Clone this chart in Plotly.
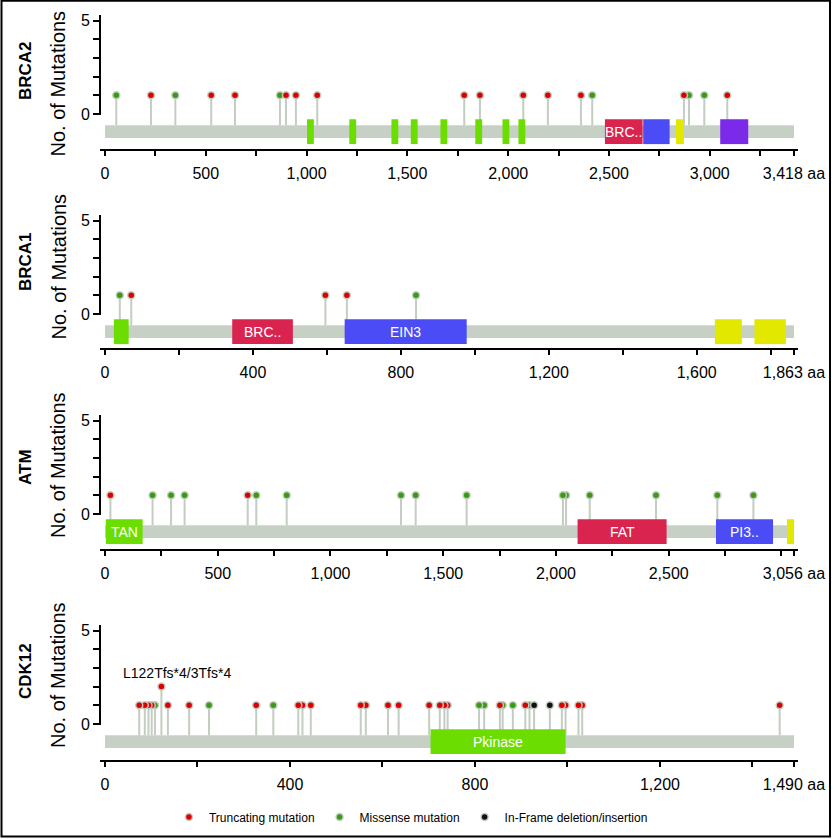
import plotly.graph_objects as go

# ---------------- data ----------------
genes = ["BRCA2", "BRCA1", "ATM", "CDK12"]
protein_length = [3418, 1863, 3056, 1490]
minor_tick_step = [250, 200, 250, 200]
label_tick_step = [500, 400, 500, 400]

# BRCA2 domains
brca2_dom_start = [1002, 1212, 1421, 1517, 1664, 1837, 1972, 2051, 2480, 2670, 2832, 3052]
brca2_dom_end = [1036, 1246, 1455, 1551, 1698, 1871, 2006, 2085, 2667, 2801, 2872, 3191]
brca2_dom_family = ["BRC_repeat"] * 8 + ["BRCA2_helical", "BRCA2_OB1", "Tower", "BRCA2_OB3"]
brca2_dom_label = [""] * 8 + ["BRC..", "", "", ""]

# BRCA1 domains
brca1_dom_start = [24, 344, 648, 1649, 1756]
brca1_dom_end = [64, 508, 978, 1722, 1841]
brca1_dom_family = ["zf-C3HC4", "BRCT_assoc", "EIN3", "BRCT", "BRCT"]
brca1_dom_label = ["", "BRC..", "EIN3", "", ""]

# ATM domains
atm_dom_start = [4, 2096, 2710, 3025]
atm_dom_end = [167, 2491, 2963, 3056]
atm_dom_family = ["TAN", "FAT", "PI3_PI4_kinase", "FATC"]
atm_dom_label = ["TAN", "FAT", "PI3..", ""]

# CDK12 domains
cdk12_dom_start = [704]
cdk12_dom_end = [996]
cdk12_dom_family = ["Pkinase"]
cdk12_dom_label = ["Pkinase"]

# mutations: T = truncating, M = missense, I = in-frame del/ins
brca2_mut_pos = [56, 228, 349, 527, 645, 868, 898, 947, 1053, 1782, 1860, 2075, 2197, 2361, 2417, 2872, 2897, 2973, 3087]
brca2_mut_type = ["M", "T", "M", "T", "T", "M", "T", "T", "T", "T", "T", "T", "T", "T", "M", "T", "M", "M", "T"]
brca2_mut_count = [1] * 19

brca1_mut_pos = [40, 71, 596, 654, 841]
brca1_mut_type = ["M", "T", "T", "T", "M"]
brca1_mut_count = [1] * 5

atm_mut_pos = [24, 211, 293, 353, 633, 671, 806, 1313, 1378, 1604, 2031, 2045, 2150, 2444, 2716, 2876]
atm_mut_type = ["T", "M", "M", "M", "T", "M", "M", "M", "M", "M", "M", "M", "M", "M", "M", "M"]
atm_mut_count = [1] * 16

cdk12_mut_pos = [74, 86, 94, 101, 108, 122, 136, 182, 225, 327, 364, 418, 427, 445, 553, 564, 612, 635,
                 701, 724, 734, 741, 809, 820, 854, 860, 882, 909, 918, 928, 962, 988, 996, 1024, 1032, 1459]
cdk12_mut_type = ["T", "T", "T", "T", "M", "T", "T", "T", "M", "T", "M", "T", "T", "T", "T", "T", "T", "T",
                  "T", "T", "T", "T", "M", "M", "T", "M", "M", "T", "M", "I", "I", "T", "T", "T", "T", "T"]
cdk12_mut_count = [1, 1, 1, 1, 1, 2, 1, 1, 1, 1, 1, 1, 1, 1, 1, 1, 1, 1,
                   1, 1, 1, 1, 1, 1, 1, 1, 1, 1, 1, 1, 1, 1, 1, 1, 1, 1]

cdk12_hotspot_label = "L122Tfs*4/3Tfs*4"
cdk12_hotspot_pos = 122

mutation_types = ["T", "M", "I"]
mutation_names = ["Truncating mutation", "Missense mutation", "In-Frame deletion/insertion"]

domains = [
    (brca2_dom_start, brca2_dom_end, brca2_dom_family, brca2_dom_label),
    (brca1_dom_start, brca1_dom_end, brca1_dom_family, brca1_dom_label),
    (atm_dom_start, atm_dom_end, atm_dom_family, atm_dom_label),
    (cdk12_dom_start, cdk12_dom_end, cdk12_dom_family, cdk12_dom_label),
]
mutations = [
    (brca2_mut_pos, brca2_mut_type, brca2_mut_count),
    (brca1_mut_pos, brca1_mut_type, brca1_mut_count),
    (atm_mut_pos, atm_mut_type, atm_mut_count),
    (cdk12_mut_pos, cdk12_mut_type, cdk12_mut_count),
]

# ---------------- styles ----------------
W, H = 837, 839
FONT = "Liberation Sans, Arial, Helvetica, sans-serif"
GREEN_D, RED_D, BLUE_D, YEL_D, PUR_D = "#6bdd00", "#da2450", "#4b4cf6", "#e3e800", "#7b2aea"
family_color = {
    "BRC_repeat": GREEN_D, "BRCA2_helical": RED_D, "BRCA2_OB1": BLUE_D, "Tower": YEL_D, "BRCA2_OB3": PUR_D,
    "zf-C3HC4": GREEN_D, "BRCT_assoc": RED_D, "EIN3": BLUE_D, "BRCT": YEL_D,
    "TAN": GREEN_D, "FAT": RED_D, "PI3_PI4_kinase": BLUE_D, "FATC": YEL_D,
    "Pkinase": GREEN_D,
}
type_color = {"T": "#dd0000", "M": "#3a9a10", "I": "#111111"}
BAR_COLOR = "#c6d0c4"
STEM_COLOR = "#c3cdc1"

# pixel layout
x_left_px, x_right_px = 100, 798
zero_px = [114, 314, 514, 724]
bottom_px = [149, 348, 549, 759.5]
unit_px = 18.7
y_top_val = 5.4
gene_label_y = [71, 262, 467, 671]
ytitle_y = [83.5, 266.5, 465, 675]

BAR_Y = (-1.29, -0.60)
DOM_Y = (-1.61, -0.28)

fig = go.Figure()
layout = dict(
    width=W, height=H, margin=dict(l=0, r=0, t=0, b=0, pad=0, autoexpand=False), autosize=False,
    paper_bgcolor="white", plot_bgcolor="white",
    font=dict(family=FONT, color="black"),
    showlegend=True,
)
shapes = []
annotations = []
legend_shown = set()

for i, gene in enumerate(genes):
    n = "" if i == 0 else str(i + 1)
    xa, ya = "x" + n, "y" + n
    L = protein_length[i]
    s = 689.0 / L
    xr = [-5.0 / s, L + 4.0 / s]
    ymin = -(bottom_px[i] - zero_px[i]) / unit_px
    top_px = zero_px[i] - y_top_val * unit_px
    dom_y = [1 - bottom_px[i] / H, 1 - top_px / H]

    tv, tt = [], []
    v = 0
    while v < L:
        tv.append(v)
        if v % label_tick_step[i] == 0 and (L - v) > 0.05 * L:
            tt.append(f"{v:,}")
        else:
            tt.append("")
        v += minor_tick_step[i]
    tv.append(L)
    tt.append(f"{L:,} aa")

    layout["xaxis" + n] = dict(
        domain=[x_left_px / W, x_right_px / W], range=xr, anchor=ya, automargin=False,
        showgrid=False, zeroline=False, showline=True, linecolor="black", linewidth=2,
        ticks="outside", ticklen=5, tickwidth=1.5, tickcolor="black", ticklabelstandoff=4,
        tickmode="array", tickvals=tv, ticktext=tt,
        tickfont=dict(size=16, family=FONT, color="black"), fixedrange=True,
    )
    layout["yaxis" + n] = dict(
        domain=dom_y, range=[ymin, y_top_val], anchor=xa, automargin=False,
        showgrid=False, zeroline=False, showline=False,
        ticks="outside", ticklen=6, tickwidth=1.5, tickcolor="black",
        tickmode="array", tickvals=[0, 1, 2, 3, 4, 5], ticktext=["0", "", "", "", "", "5"],
        tickfont=dict(size=16, family=FONT, color="black"), fixedrange=True,
    )

    # y axis line (0..5 only)
    shapes.append(dict(type="line", xref=xa + " domain", yref=ya, x0=0, x1=0, y0=-0.06, y1=5.3,
                       line=dict(color="black", width=2), layer="above"))
    # protein backbone
    shapes.append(dict(type="rect", xref=xa, yref=ya, x0=0, x1=L, y0=BAR_Y[0], y1=BAR_Y[1],
                       fillcolor=BAR_COLOR, line=dict(width=0), layer="below"))
    # domains
    ds, de, df, dl = domains[i]
    for a, b, fam, lab in zip(ds, de, df, dl):
        shapes.append(dict(type="rect", xref=xa, yref=ya, x0=a, x1=b, y0=DOM_Y[0], y1=DOM_Y[1],
                           fillcolor=family_color[fam], line=dict(width=0), layer="above"))
        if lab:
            annotations.append(dict(x=(a + b) / 2, y=(DOM_Y[0] + DOM_Y[1]) / 2, xref=xa, yref=ya,
                                    text=lab, showarrow=False, xanchor="center", yanchor="middle",
                                    font=dict(size=14, color="white", family=FONT)))

    # stems
    mp, mt, mc = mutations[i]
    sx, sy = [], []
    for p, c in zip(mp, mc):
        sx += [p, p, None]
        sy += [BAR_Y[1], c, None]
    fig.add_trace(go.Scatter(x=sx, y=sy, xaxis=xa, yaxis=ya, mode="lines",
                             line=dict(color=STEM_COLOR, width=2), hoverinfo="skip", showlegend=False))
    # lollipop heads, one trace per mutation type (green below red/black)
    for t in ["M", "I", "T"]:
        pts = sorted([(p, c) for p, tt_, c in zip(mp, mt, mc) if tt_ == t], reverse=True)
        if not pts:
            continue
        name = mutation_names[mutation_types.index(t)]
        show = t not in legend_shown
        legend_shown.add(t)
        fig.add_trace(go.Scatter(
            x=[p for p, _ in pts], y=[c for _, c in pts], xaxis=xa, yaxis=ya, mode="markers",
            marker=dict(color=type_color[t], size=7, line=dict(color="rgba(195,205,195,0.95)", width=1.5)),
            name=name, legendgroup=t, showlegend=show,
            legendrank=mutation_types.index(t) + 1,
        ))

    # titles
    annotations.append(dict(x=25 / W, y=1 - gene_label_y[i] / H, xref="paper", yref="paper",
                            text="<b>" + gene + "</b>", textangle=-90, showarrow=False,
                            xanchor="center", yanchor="middle",
                            font=dict(size=17, family=FONT, color="black")))
    annotations.append(dict(x=58 / W, y=1 - ytitle_y[i] / H, xref="paper", yref="paper",
                            text="No. of Mutations", textangle=-90, showarrow=False,
                            xanchor="center", yanchor="middle",
                            font=dict(size=20, family=FONT, color="black")))

# hotspot label on CDK12
annotations.append(dict(x=cdk12_hotspot_pos, y=2, xref="x4", yref="y4", text=cdk12_hotspot_label,
                        showarrow=False, xanchor="center", yanchor="bottom", xshift=16, yshift=4,
                        font=dict(size=14, family=FONT, color="black")))

# outer frame
shapes.append(dict(type="rect", xref="paper", yref="paper", x0=1.5 / W, x1=830 / W,
                   y0=1 - 836.5 / H, y1=1 - 0.8 / H, line=dict(color="black", width=2),
                   fillcolor="rgba(0,0,0,0)", layer="above"))

layout["shapes"] = shapes
layout["annotations"] = annotations
layout["legend"] = dict(orientation="h", x=0.491, xanchor="center", y=1 - 817 / H, yanchor="middle",
                        font=dict(size=12, family=FONT, color="black"), bgcolor="rgba(0,0,0,0)",
                        itemwidth=30, traceorder="normal")
fig.update_layout(**layout)
fig.write_html("out.html", config={"displayModeBar": False},
               post_script="document.body.style.margin='0';document.body.style.overflow='hidden';")
